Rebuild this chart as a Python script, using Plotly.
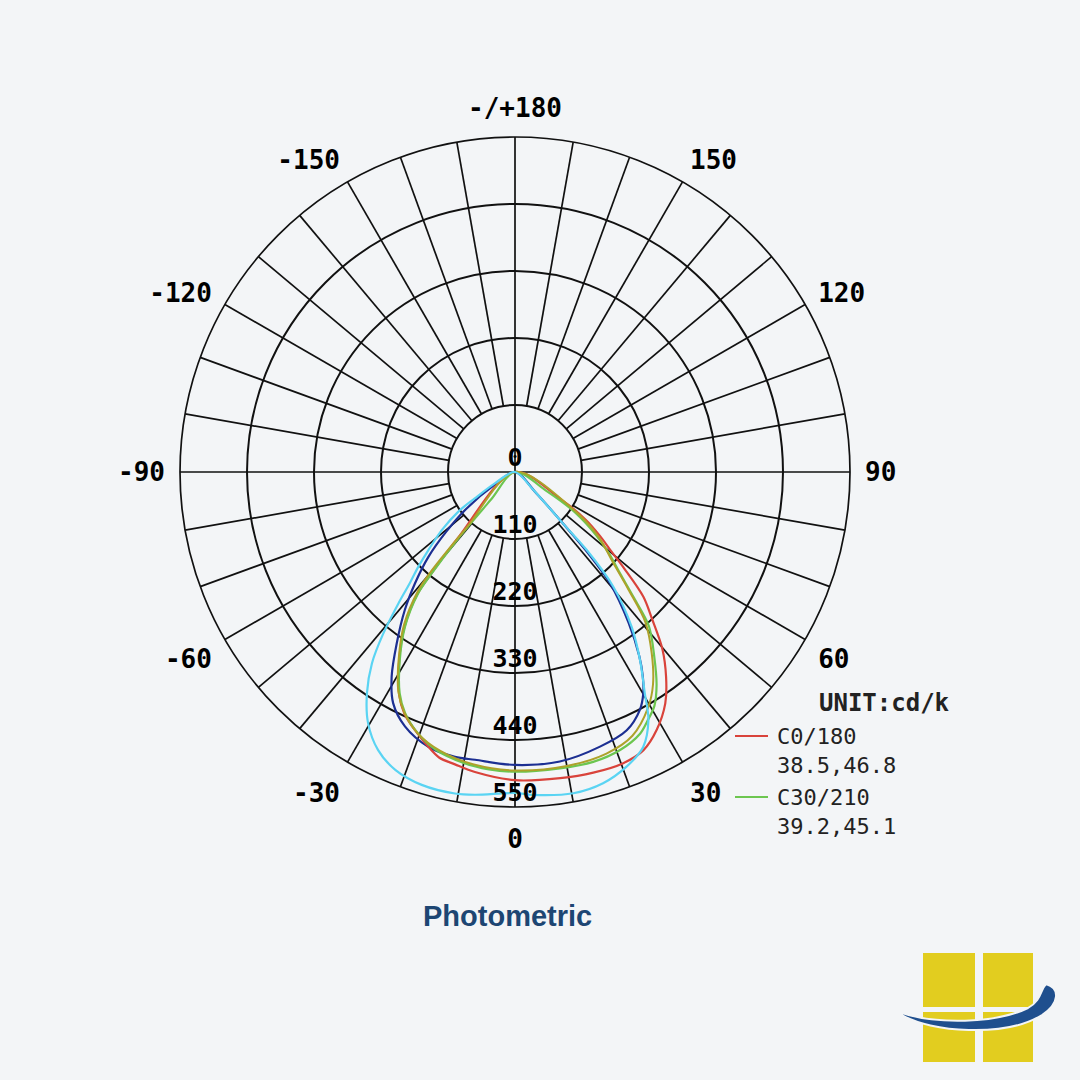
import plotly.graph_objects as go

# photometric polar diagram: gamma angle (0 = nadir, + = right half) vs intensity cd/klm
radial_ticks = [0, 110, 220, 330, 440, 550]
angle_ticks = [0, 30, 60, 90, 120, 150, 180, 210, 240, 270, 300, 330]
angle_labels = ["0", "30", "60", "90", "120", "150", "-/+180",
                "-150", "-120", "-90", "-60", "-30"]

# C0/180 (red)
red_theta = [-44, -41, -39.5, -38.6, -35.4, -31.5, -27.5, -24.5, -20.3, -17.9, -14.9, -11.6, -7.6,
             0, 8.4, 14.6, 20.4, 24.8, 28.8, 33, 36.4, 39.8, 43, 45.8, 48.5, 50.5, 53, 56, 59, 62]
red_r = [0, 140, 215, 258, 314, 364, 412, 437, 459, 471, 485, 490, 497,
         506, 508, 510, 510, 503, 483, 453, 418, 378, 330, 294, 240, 205, 175, 140, 90, 0]

# C30/210 (green)
green_theta = [-42, -41, -40.5, -39.4, -38.6, -35.4, -31.5, -27.5, -24.5, -20.3, -16, -10, -5,
               0, 8.6, 15.1, 20.7, 25.6, 28, 30.8, 33.6, 37, 41, 43.5, 46, 49, 52, 56, 59, 61]
green_r = [0, 60, 140, 215, 255, 312, 362, 410, 435, 458, 474, 485, 490,
           492, 492, 493, 488, 476, 463, 447, 420, 380, 335, 282, 240, 205, 170, 120, 60, 0]

# third C-plane pair (olive)
olive_theta = [-42.5, -41, -40.2, -39.2, -36, -32, -28, -24.8, -20.6, -15, -8,
               0, 10, 18, 24, 29.5, 33, 37, 41, 44, 47.2, 52.4, 57.5, 60]
olive_r = [0, 120, 212, 252, 310, 360, 408, 434, 457, 474, 485,
           490, 490, 486, 474, 444, 416, 373, 326, 268, 220, 172, 112, 0]

# fourth C-plane pair (blue)
blue_theta = [-60, -58, -53, -49, -45.5, -41.9, -38.6, -34.6, -31.1, -27.8, -23.4, -17.5, -11.9, -7.9,
              0, 8.8, 17.2, 23.4, 27.7, 30.1, 32, 34, 37, 40.5, 42, 43, 45, 47]
blue_r = [0, 40, 100, 150, 200, 246, 290, 342, 392, 429, 455, 473, 478, 477,
          481, 481, 472, 462, 441, 420, 396, 365, 310, 240, 180, 115, 50, 0]

# fifth C-plane pair (cyan)
cyan_theta = [-62, -60.5, -56.7, -55, -51.6, -48, -45.6, -43.5, -41.6, -39.2, -36.8, -33.8, -30.3,
              -26.2, -21.9, -16.6, -10.6, -7.1, 0, 3.2, 10.3, 15.8, 20.8, 25, 28.3, 30.4, 33.6,
              37, 40.6, 42.6, 43, 46, 48]
cyan_r = [0, 38, 79, 114, 153, 191, 222, 250, 288, 342, 392, 437, 478,
          509, 527, 536, 537, 534, 527, 531, 536, 531, 517, 498, 462, 421, 371,
          318, 248, 174, 112, 40, 0]

curves = [
    ("C60/240", blue_theta, blue_r, "#1c2f92", 2.2),
    ("C0/180", red_theta, red_r, "#d9433b", 2.2),
    ("C30/210", green_theta, green_r, "#6cc650", 2.2),
    ("C90/270", olive_theta, olive_r, "#ada22a", 2.0),
    ("C120/300", cyan_theta, cyan_r, "#5ad4f3", 2.2),
]

BG = "#f3f5f7"
W = H = 1080


def paper(x, y):
    # pixel position -> paper fraction (margins are zero)
    return x / W, 1 - y / H


fig = go.Figure()

# spokes every 10 deg from the inner ring out; main axes run through the centre
spoke_t, spoke_r = [], []
for a in range(0, 360, 10):
    start = 0 if a % 90 == 0 else radial_ticks[1]
    spoke_t += [a, a, None]
    spoke_r += [start, radial_ticks[-1], None]
fig.add_trace(go.Scatterpolar(theta=spoke_t, r=spoke_r, mode="lines",
                              line=dict(color="#111111", width=1.7),
                              hoverinfo="skip", showlegend=False))

for name, th, rr, col, lw in curves:
    fig.add_trace(go.Scatterpolar(theta=th, r=rr, mode="lines", name=name,
                                  line=dict(color=col, width=lw, shape="spline", smoothing=0.9),
                                  showlegend=False))

# radial value labels along the nadir line
fig.add_trace(go.Scatterpolar(theta=[0] * len(radial_ticks), r=radial_ticks,
                              mode="text", text=[str(v) for v in radial_ticks],
                              textposition="top center",
                              textfont=dict(family="DejaVu Sans Mono", size=25,
                                            color="black", weight="bold"),
                              hoverinfo="skip", showlegend=False))

x0, y1 = paper(180, 137)
x1, y0 = paper(850, 807)
fig.update_layout(
    width=W, height=H,
    paper_bgcolor=BG, plot_bgcolor=BG,
    margin=dict(l=0, r=0, t=0, b=0),
    showlegend=False,
    polar=dict(
        domain=dict(x=[x0, x1], y=[y0, y1]),
        bgcolor=BG,
        radialaxis=dict(range=[0, 550], tickvals=radial_ticks[1:], showticklabels=False,
                        ticks="", showline=False, gridcolor="#111111", gridwidth=1.7),
        angularaxis=dict(rotation=270, direction="counterclockwise",
                         tickmode="array", tickvals=angle_ticks, ticktext=angle_labels,
                         ticks="outside", ticklen=9, tickcolor="rgba(0,0,0,0)",
                         showgrid=False, showline=True, linecolor="#111111", linewidth=1.7,
                         tickfont=dict(family="DejaVu Sans Mono", size=26,
                                       color="black", weight="bold")),
    ),
)

# legend block on the right
mono = dict(family="DejaVu Sans Mono", size=22, color="#222222")
legend_rows = [
    ("UNIT:cd/k", 703, dict(family="DejaVu Sans Mono", size=24, color="#222222", weight="bold"), 817),
    ("C0/180", 736, mono, 775),
    ("38.5,46.8", 765, mono, 775),
    ("C30/210", 797, mono, 775),
    ("39.2,45.1", 826, mono, 775),
]
for txt, ypx, f, xpx in legend_rows:
    ax, ay = paper(xpx, ypx)
    fig.add_annotation(x=ax, y=ay, xref="paper", yref="paper", text=txt, showarrow=False,
                       xanchor="left", yanchor="middle", font=f)
for ypx, col in [(736, "#d9433b"), (797, "#6cc650")]:
    lx0, ly = paper(735, ypx)
    lx1, _ = paper(768, ypx)
    fig.add_shape(type="line", xref="paper", yref="paper", x0=lx0, x1=lx1, y0=ly, y1=ly,
                  line=dict(color=col, width=2))

# title
tx, ty = paper(507, 916)
fig.add_annotation(x=tx, y=ty, xref="paper", yref="paper", text="<b>Photometric</b>",
                   showarrow=False, xanchor="center", yanchor="middle",
                   font=dict(family="Liberation Sans", size=29, color="#1d4673"))

# logo: four yellow tiles with a blue swoosh
for (a, b, c, d) in [(923, 953, 975, 1007), (983, 953, 1033, 1007),
                     (923, 1012, 975, 1062), (983, 1012, 1033, 1062)]:
    px0, py1 = paper(a, b)
    px1, py0 = paper(c, d)
    fig.add_shape(type="rect", xref="paper", yref="paper", x0=px0, x1=px1, y0=py0, y1=py1,
                  fillcolor="#e2cd1f", line=dict(width=0))


def pt(x, y):
    a, b = paper(x, y)
    return f"{a:.5f},{b:.5f}"


path = ("M " + pt(902, 1015)
        + " C " + pt(930, 1032) + " " + pt(1005, 1038) + " " + pt(1042, 1015)
        + " C " + pt(1060, 1003) + " " + pt(1060, 988) + " " + pt(1046, 984)
        + " C " + pt(1040, 990) + " " + pt(1042, 1000) + " " + pt(1028, 1008)
        + " C " + pt(995, 1024) + " " + pt(935, 1024) + " " + pt(902, 1013) + " Z")
fig.add_shape(type="path", xref="paper", yref="paper", path=path,
              fillcolor="#1f4f8e", line=dict(color=BG, width=2))

fig.write_html("out.html", config={"displayModeBar": False},
               post_script="document.body.style.margin='0';"
                           "document.body.style.background='" + BG + "';")
